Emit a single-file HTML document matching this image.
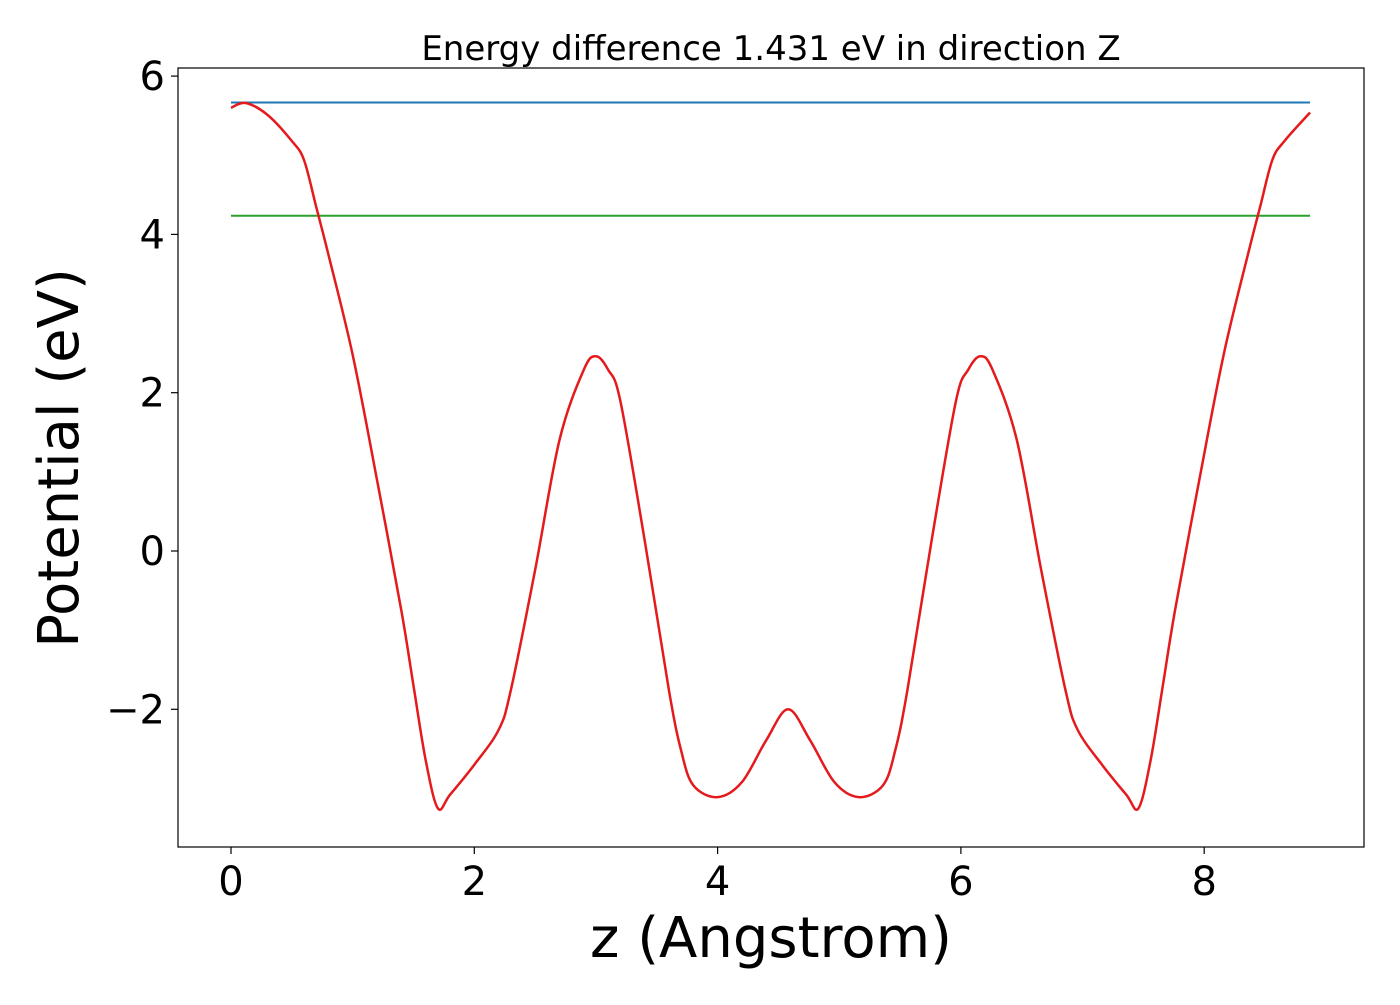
<!DOCTYPE html>
<html><head><meta charset="utf-8"><style>
html,body{margin:0;padding:0;background:#fff;}
svg text{font-family:"DejaVu Sans","Liberation Sans",sans-serif;fill:#000;}
</style></head><body>
<svg id="chart" width="1400" height="1000" xmlns="http://www.w3.org/2000/svg">
<rect width="1400" height="1000" fill="#fff"/>
<text x="771" y="60" font-size="34" text-anchor="middle">Energy difference 1.431 eV in direction Z</text>
<g id="plot"></g>
<rect x="178" y="68" width="1186" height="779" fill="none" stroke="#000" stroke-width="1.2"/>
<text x="771" y="957" font-size="56" text-anchor="middle">z (Angstrom)</text>
<text transform="translate(78,458) rotate(-90)" font-size="56" text-anchor="middle">Potential (eV)</text>
</svg>
<script>
const zValues=[0,0.12,0.3,0.5,0.6,0.7,0.8,1.0,1.2,1.4,1.5,1.6,1.7,1.8,2.0,2.2,2.3,2.5,2.7,2.9,3.0,3.1,3.2,3.4,3.6,3.7,3.8,4.0,4.2,4.4,4.58,4.76,4.96,5.16,5.36,5.46,5.56,5.76,5.96,6.06,6.16,6.26,6.46,6.66,6.86,6.96,7.16,7.36,7.46,7.56,7.66,7.76,7.96,8.16,8.36,8.46,8.56,8.66,8.87];
const potValues=[5.60,5.66,5.51,5.18,4.94,4.35,3.75,2.48,0.9,-0.75,-1.7,-2.64,-3.25,-3.08,-2.7,-2.26,-1.76,-0.24,1.4,2.29,2.46,2.29,1.9,0.14,-1.76,-2.52,-2.96,-3.11,-2.92,-2.39,-2.0,-2.39,-2.92,-3.11,-2.96,-2.52,-1.76,0.14,1.9,2.29,2.46,2.29,1.4,-0.24,-1.76,-2.26,-2.7,-3.08,-3.25,-2.64,-1.7,-0.75,0.9,2.48,3.75,4.35,4.94,5.18,5.54];
const levelValues=[5.666,4.235];
const levelColors=['#1f77b4','#2ca02c'];
const xTicks=[0,2,4,6,8];
const yTicks=[-2,0,2,4,6];
const yTickLabels=['\u22122','0','2','4','6'];
const X=v=>231+v*121.65;
const Y=v=>551-v*79.15;
const g=document.getElementById('plot');
const NS='http://www.w3.org/2000/svg';
function mk(t,a){const e=document.createElementNS(NS,t);for(const k in a)e.setAttribute(k,a[k]);g.appendChild(e);return e;}
xTicks.forEach(t=>{
  const l=mk('line',{x1:X(t),x2:X(t),y1:847,y2:854,stroke:'#000','stroke-width':1.2});
  
  
  const tx=mk('text',{x:X(t),y:895,'font-size':40,'text-anchor':'middle'});
  tx.textContent=t;
  
  
});
yTicks.forEach((t,i)=>{
  const l=mk('line',{x1:171,x2:178,y1:Y(t),y2:Y(t),stroke:'#000','stroke-width':1.2});
  
  
  const tx=mk('text',{x:165,y:Y(t)+14,'font-size':40,'text-anchor':'end'});
  tx.textContent=yTickLabels[i];
  
  
});
levelValues.forEach((v,i)=>{
  const l=mk('line',{x1:X(0),x2:X(8.87),y1:Y(v),y2:Y(v),stroke:levelColors[i],'stroke-width':2});
  
  
});
const pts=zValues.map((z,i)=>[X(z),Y(potValues[i])]);
let d='M'+pts[0][0]+','+pts[0][1];
for(let i=0;i<pts.length-1;i++){
  const p0=pts[Math.max(0,i-1)],p1=pts[i],p2=pts[i+1],p3=pts[Math.min(pts.length-1,i+2)];
  const c1=[p1[0]+(p2[0]-p0[0])/6,p1[1]+(p2[1]-p0[1])/6];
  const c2=[p2[0]-(p3[0]-p1[0])/6,p2[1]-(p3[1]-p1[1])/6];
  d+=' C'+c1+' '+c2+' '+p2;
}
const path=mk('path',{d:d,fill:'none',stroke:'#e41a1c','stroke-width':2.5});


</script>
</body></html>
